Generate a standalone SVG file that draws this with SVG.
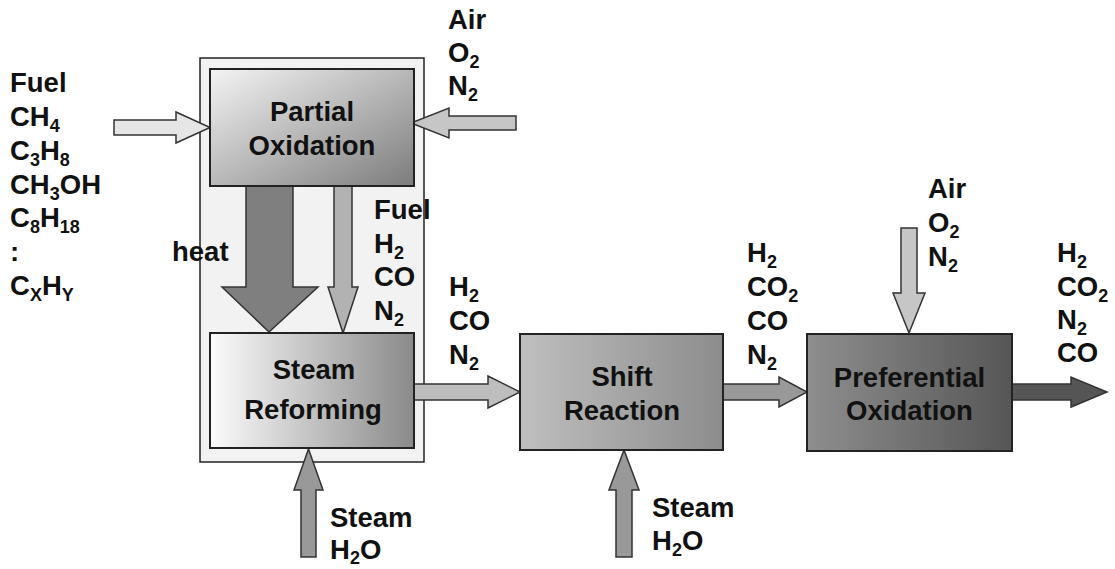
<svg xmlns="http://www.w3.org/2000/svg" width="1115" height="569" viewBox="0 0 1115 569">
<defs>
<linearGradient id="gPO" x1="0" y1="0" x2="1" y2="1"><stop offset="0" stop-color="#f4f4f4"/><stop offset="1" stop-color="#7c7c7c"/></linearGradient>
<linearGradient id="gSR" x1="0" y1="0" x2="1" y2="0"><stop offset="0" stop-color="#fbfbfb"/><stop offset="1" stop-color="#8a8a8a"/></linearGradient>
<linearGradient id="gSH" x1="0" y1="0" x2="1" y2="0"><stop offset="0" stop-color="#bfbfbf"/><stop offset="1" stop-color="#8c8c8c"/></linearGradient>
<linearGradient id="gPR" x1="0" y1="0" x2="1" y2="0"><stop offset="0" stop-color="#8e8e8e"/><stop offset="1" stop-color="#565656"/></linearGradient>
</defs>
<style>
text{font-family:"Liberation Sans",Arial,sans-serif;font-weight:bold;font-size:27.5px;fill:#111}
.box{stroke:#222;stroke-width:2}
.c{text-anchor:middle}
.arr{stroke:#333;stroke-width:1.5;stroke-linejoin:miter}
.s{font-size:18px}
</style>
<rect width="1115" height="569" fill="#fff"/>
<g id="reformer">
<rect x="200" y="58" width="224" height="404" fill="#f2f2f2" stroke="#222" stroke-width="1.5"/>
</g>
<g id="connectors">
<polygon class="arr" fill="#e6e6e6" points="114,120 176,120 176,112 210,127.5 176,143 176,135 114,135"/>
<polygon class="arr" fill="#c6c6c6" points="516,116 449,116 449,108 411,123 449,138 449,130 516,130"/>
<polygon class="arr" fill="#7f7f7f" points="246,186 293,186 293,287 318,287 269,332 222,287 246,287"/>
<polygon class="arr" fill="#b2b2b2" points="334,186 352,186 352,287 358,287 343,333 328,287 334,287"/>
<polygon class="arr" fill="#bdbdbd" points="414,384 488,384 488,376 520,392 488,408 488,400 414,400"/>
<polygon class="arr" fill="#999999" points="723,384 779,384 779,377 807,392 779,407 779,400 723,400"/>
<polygon class="arr" fill="#c6c6c6" points="901,228 917,228 917,293 925,293 909,333 893,293 901,293"/>
<polygon class="arr" fill="#555555" points="1012,384 1071,384 1071,377 1107,392 1071,407 1071,400 1012,400"/>
<polygon class="arr" fill="#999999" points="301,557 316,557 316,490 323,490 308.5,449 294,490 301,490"/>
<polygon class="arr" fill="#999999" points="616,557 632,557 632,490 639,490 624,450 609,490 616,490"/>
</g>
<g id="partial-oxidation">
<rect class="box" x="210" y="69" width="204" height="117" fill="url(#gPO)"/>
<text class="c" x="312" y="121">Partial</text>
<text class="c" x="312" y="155">Oxidation</text>
</g>
<g id="steam-reforming">
<rect class="box" x="210" y="333" width="204" height="115" fill="url(#gSR)"/>
<text class="c" x="314" y="379">Steam</text>
<text class="c" x="313" y="419">Reforming</text>
</g>
<g id="shift-reaction">
<rect class="box" x="520" y="334" width="203" height="116" fill="url(#gSH)"/>
<text class="c" x="622" y="386">Shift</text>
<text class="c" x="622" y="420">Reaction</text>
</g>
<g id="preferential-oxidation">
<rect class="box" x="807" y="334" width="205" height="117" fill="url(#gPR)"/>
<text class="c" x="909.5" y="387">Preferential</text>
<text class="c" x="909.5" y="420">Oxidation</text>
</g>
<g id="labels">
<text x="10" y="92">Fuel</text>
<text x="10" y="126">CH<tspan class="s" dy="6">4</tspan></text>
<text x="10" y="160">C<tspan class="s" dy="6">3</tspan><tspan dy="-6">H</tspan><tspan class="s" dy="6">8</tspan></text>
<text x="10" y="194">CH<tspan class="s" dy="6">3</tspan><tspan dy="-6">OH</tspan></text>
<text x="10" y="227">C<tspan class="s" dy="6">8</tspan><tspan dy="-6">H</tspan><tspan class="s" dy="6">18</tspan></text>
<text x="10" y="261">:</text>
<text x="10" y="295">C<tspan class="s" dy="6">X</tspan><tspan dy="-6">H</tspan><tspan class="s" dy="6">Y</tspan></text>
<text x="172" y="261">heat</text>
<text x="448" y="29">Air</text>
<text x="448" y="62">O<tspan class="s" dy="6">2</tspan></text>
<text x="448" y="95">N<tspan class="s" dy="6">2</tspan></text>
<text x="374" y="219">Fuel</text>
<text x="374" y="253">H<tspan class="s" dy="6">2</tspan></text>
<text x="374" y="286">CO</text>
<text x="374" y="320">N<tspan class="s" dy="6">2</tspan></text>
<text x="449" y="296">H<tspan class="s" dy="6">2</tspan></text>
<text x="449" y="330">CO</text>
<text x="449" y="364">N<tspan class="s" dy="6">2</tspan></text>
<text x="747" y="262">H<tspan class="s" dy="6">2</tspan></text>
<text x="747" y="296">CO<tspan class="s" dy="6">2</tspan></text>
<text x="747" y="330">CO</text>
<text x="747" y="364">N<tspan class="s" dy="6">2</tspan></text>
<text x="928" y="198">Air</text>
<text x="928" y="232">O<tspan class="s" dy="6">2</tspan></text>
<text x="928" y="266">N<tspan class="s" dy="6">2</tspan></text>
<text x="1057" y="262">H<tspan class="s" dy="6">2</tspan></text>
<text x="1057" y="296">CO<tspan class="s" dy="6">2</tspan></text>
<text x="1057" y="329">N<tspan class="s" dy="6">2</tspan></text>
<text x="1057" y="362">CO</text>
<text x="330" y="527">Steam</text>
<text x="330" y="559">H<tspan class="s" dy="5">2</tspan><tspan dy="-5">O</tspan></text>
<text x="652" y="517">Steam</text>
<text x="652" y="550">H<tspan class="s" dy="6">2</tspan><tspan dy="-6">O</tspan></text>
</g>
</svg>
